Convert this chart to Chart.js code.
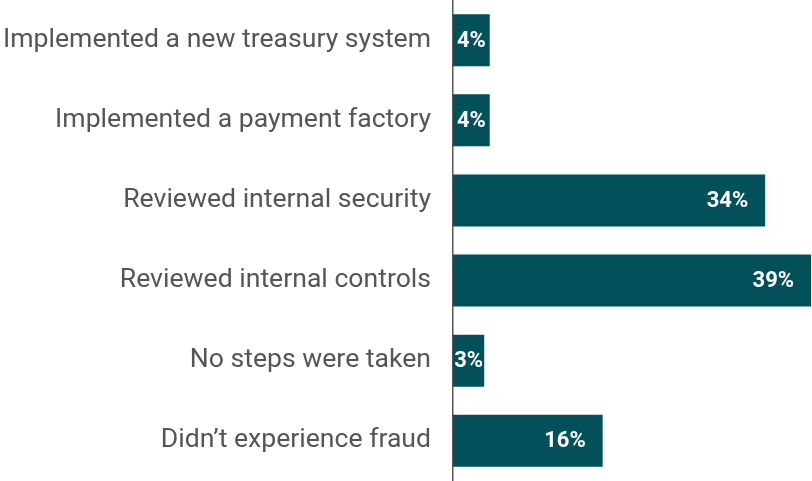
<!DOCTYPE html>
<html>
<head>
<meta charset="utf-8">
<script src="https://cdn.jsdelivr.net/npm/chart.js@4.4.1/dist/chart.umd.min.js"></script>
<style>
  html, body { margin: 0; padding: 0; background: #fff; }
  #wrap { width: 812px; height: 481px; position: relative; }
</style>
</head>
<body>
<div id="wrap"><canvas id="chart"></canvas></div>
<script>
// Data (bar lengths are a bit off the rounded labels)
const categories = [
    'Implemented a new treasury system',
    'Implemented a payment factory',
    'Reviewed internal security',
    'Reviewed internal controls',
    'No steps were taken',
    'Didn\u2019t experience fraud'
];
const shares = [4, 4, 34, 39, 3.4, 16.3];

const barColor = '#02505a';

// white % labels at the end of each bar, centred when the bar is short
const valueLabels = {
    id: 'valueLabels',
    afterDatasetsDraw(chart) {
        const ctx = chart.ctx;
        const meta = chart.getDatasetMeta(0);
        ctx.save();
        ctx.font = 'bold 22px Roboto';
        ctx.fillStyle = '#ffffff';
        ctx.textBaseline = 'middle';
        ctx.textAlign = 'left';
        meta.data.forEach((bar, i) => {
            const text = Math.round(shares[i]) + '%';
            const w = ctx.measureText(text).width;
            const len = bar.x - bar.base;
            let x;
            if (len < w + 34) {
                x = bar.base + (len - w) / 2;
            } else {
                x = bar.x - 17 - w;
            }
            ctx.fillText(text, x, bar.y + 1);
        });
        ctx.restore();
    }
};

new Chart(document.getElementById('chart'), {
    type: 'bar',
    data: {
        labels: categories,
        datasets: [{
            data: shares,
            backgroundColor: barColor,
            borderWidth: 0,
            barPercentage: 0.65,
            categoryPercentage: 1.0
        }]
    },
    options: {
        indexAxis: 'y',
        responsive: true,
        maintainAspectRatio: false,
        animation: false,
        layout: { padding: 0 },
        plugins: {
            legend: { display: false },
            tooltip: { enabled: false }
        },
        scales: {
            x: {
                display: false,
                min: 0,
                max: 39.1
            },
            y: {
                afterFit(scale) { scale.width = 453; },
                // invisible tick marks give the gap between labels and axis
                grid: {
                    display: true,
                    drawOnChartArea: false,
                    drawTicks: true,
                    tickLength: 22,
                    color: 'rgba(0,0,0,0)'
                },
                border: { display: true, color: '#555555', width: 1.5 },
                ticks: {
                    padding: 0,
                    color: '#555555',
                    // tiny lineHeight so the axis adds no top/bottom padding
                    font: { family: 'Roboto', size: 26.6, lineHeight: 0.01 }
                }
            }
        }
    },
    plugins: [valueLabels]
});
</script>
</body>
</html>
